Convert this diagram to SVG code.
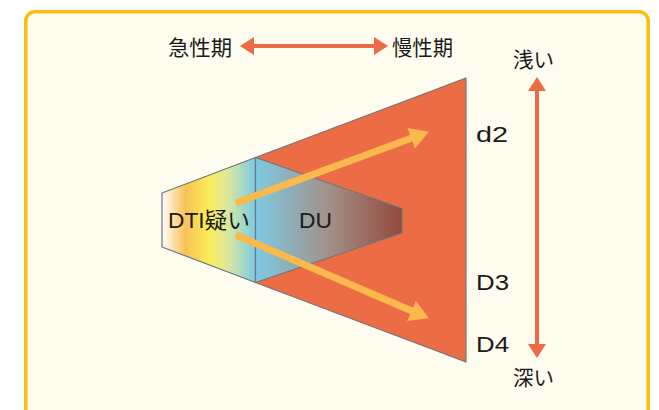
<svg xmlns="http://www.w3.org/2000/svg" width="659" height="410" viewBox="0 0 659 410">
<style>
.jp{font-family:"Noto Sans CJK JP","Noto Sans",sans-serif;font-size:21px;fill:#1a1a1a}
.lat{font-family:"Liberation Sans","Noto Sans CJK JP",sans-serif;font-size:22px;fill:#1a1a1a}
.edge{stroke:#6f7680;stroke-width:1.2;stroke-linejoin:round}
.red{stroke:#EB6B45;stroke-width:4;fill:none}
.yel{stroke:#F9B94B;stroke-width:7;fill:none}
</style>
<defs>
<linearGradient id="gDTI" gradientUnits="userSpaceOnUse" x1="162" y1="0" x2="255" y2="0">
<stop offset="0" stop-color="#ffffff"/>
<stop offset="0.25" stop-color="#F8C156"/>
<stop offset="0.5" stop-color="#FCEC58"/>
<stop offset="0.72" stop-color="#D8E7A2"/>
<stop offset="1" stop-color="#7DCAE4"/>
</linearGradient>
<linearGradient id="gDU" gradientUnits="userSpaceOnUse" x1="255" y1="0" x2="402" y2="0">
<stop offset="0" stop-color="#7DCAE4"/>
<stop offset="0.5" stop-color="#A39189"/>
<stop offset="1" stop-color="#92493A"/>
</linearGradient>
<marker id="hr" markerUnits="userSpaceOnUse" markerWidth="14" markerHeight="18" viewBox="0 0 14 18" refX="6" refY="9" orient="auto-start-reverse">
<path d="M0,0 L14,9 L0,18 z" fill="#EB6B45"/>
</marker>
<marker id="hy" markerUnits="userSpaceOnUse" markerWidth="19" markerHeight="22" viewBox="0 0 19 22" refX="8" refY="11" orient="auto">
<path d="M0,0 L19,11 L0,22 z" fill="#F9B94B"/>
</marker>
</defs>
<rect x="25.8" y="11.8" width="622.4" height="420" rx="9" fill="#FEFCEE" stroke="#FBBE12" stroke-width="3.6"/>
<g id="deep-layer">
<polygon class="edge" points="255.5,157.5 466,78 466,362 255.5,282.5" fill="#EC6C46"/>
</g>
<g id="dti">
<polygon class="edge" points="162,193 255.5,157.5 255.5,282.5 162,247" fill="url(#gDTI)"/>
<text class="lat" x="168" y="228" textLength="82" lengthAdjust="spacingAndGlyphs">DTI<tspan font-family="Noto Sans CJK JP, sans-serif">疑い</tspan></text>
</g>
<g id="du">
<polygon class="edge" points="255.5,157.5 402,208.5 402,233 255.5,282.5" fill="url(#gDU)"/>
<text class="lat" x="299" y="228" textLength="33" lengthAdjust="spacingAndGlyphs">DU</text>
</g>
<g id="labels">
<text class="jp" x="168" y="55" textLength="64" lengthAdjust="spacingAndGlyphs">急性期</text>
<text class="jp" x="392" y="55" textLength="61" lengthAdjust="spacingAndGlyphs">慢性期</text>
<text class="jp" x="513" y="67" textLength="41" lengthAdjust="spacingAndGlyphs">浅い</text>
<text class="jp" x="513" y="385" textLength="41" lengthAdjust="spacingAndGlyphs">深い</text>
<text class="lat" x="476" y="142" textLength="32" lengthAdjust="spacingAndGlyphs">d2</text>
<text class="lat" x="476" y="290" textLength="33" lengthAdjust="spacingAndGlyphs">D3</text>
<text class="lat" x="476" y="352" textLength="33" lengthAdjust="spacingAndGlyphs">D4</text>
</g>
<g id="connectors">
<line class="red" x1="248" y1="46" x2="380" y2="46" marker-start="url(#hr)" marker-end="url(#hr)"/>
<line class="red" x1="537" y1="85" x2="537" y2="350" marker-start="url(#hr)" marker-end="url(#hr)"/>
<line class="yel" x1="236" y1="203" x2="418.6" y2="135.5" marker-end="url(#hy)"/>
<line class="yel" x1="236" y1="235" x2="418.8" y2="314" marker-end="url(#hy)"/>
</g>
</svg>
